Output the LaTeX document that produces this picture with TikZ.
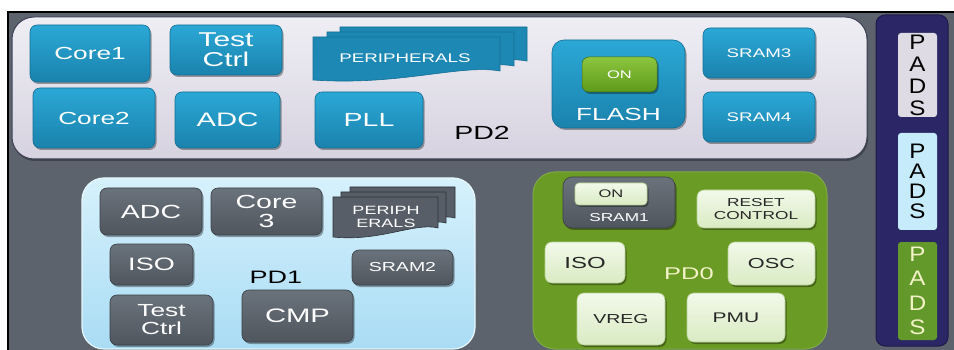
\documentclass[tikz,border=0pt]{standalone}
\usepackage{fontspec}
\setmainfont[FakeStretch=1.5]{Liberation Sans}
\newfontfamily\padsfont[FakeStretch=1.15]{Liberation Sans}
\usetikzlibrary{shadows}
\definecolor{bg}{HTML}{5C636C}
\definecolor{blueT}{HTML}{2BA8D6}
\definecolor{blueB}{HTML}{1A82AD}
\definecolor{blueD}{HTML}{156F94}
\definecolor{greyT}{HTML}{6A727B}
\definecolor{greyB}{HTML}{4F565E}
\definecolor{greyD}{HTML}{3A3F45}
\definecolor{lgT}{HTML}{F2F9EA}
\definecolor{lgB}{HTML}{D9EBC3}
\definecolor{lgD}{HTML}{B5CF92}
\definecolor{onT}{HTML}{8CC63F}
\definecolor{onB}{HTML}{5E9A1A}
\definecolor{pdTwoT}{HTML}{EFEEF4}
\definecolor{pdTwoB}{HTML}{D6D2E0}
\definecolor{pdTwoD}{HTML}{3E4157}
\definecolor{pdOneT}{HTML}{D6F1FC}
\definecolor{pdOneB}{HTML}{A9DCF4}
\definecolor{pdZero}{HTML}{6A9B25}
\definecolor{navy}{HTML}{2B2766}
\definecolor{navyD}{HTML}{1D1A4A}
\definecolor{padA}{HTML}{DEDBE4}
\definecolor{padB}{HTML}{C6EBFB}
\definecolor{padC}{HTML}{63992A}
\definecolor{paleY}{HTML}{F4F2C8}
\newcommand\fsz[2]{\fontsize{#1}{#2}\selectfont}
\begin{document}
\begin{tikzpicture}[x=1pt,y=-1pt,
  sz/.style 2 args={minimum width=#1pt, minimum height=#2pt},
  box/.style={rounded corners=7pt, inner sep=0pt, align=center,
    drop shadow={shadow xshift=1.5pt,shadow yshift=-2pt,opacity=0.35,fill=black}},
  bluebox/.style={box, top color=blueT, bottom color=blueB, draw=blueD, line width=0.6pt, text=white},
  greybox/.style={box, top color=greyT, bottom color=greyB, draw=greyD, line width=0.6pt, text=white},
  lgbox/.style={box, top color=lgT, bottom color=lgB, draw=lgD, line width=0.6pt, text=black!85},
  onbox/.style={box, top color=onT, bottom color=onB, draw=onB!70!black, line width=0.5pt},
  panel/.style={rounded corners=22pt, inner sep=0pt},
  padbox/.style={rounded corners=3pt, inner sep=0pt, align=center, sz={39}{#1}},
  bluesheet/.style={fill=blueB!85!blueT, draw=blueD, line width=0.6pt},
  greysheet/.style={fill=greyB!70!greyT, draw=greyD!80!black, line width=0.6pt},
  lbl/.style={inner sep=0pt}
]
\useasboundingbox (0,0) rectangle (954,350);
\fill[white] (0,0) rectangle (954,350);
\draw[black, line width=1.4pt, fill=bg] (8,12) rectangle (970,370);

% ---------- PD2 ----------
\node[panel, sz={855}{142}, top color=pdTwoT, bottom color=pdTwoB, draw=pdTwoD, line width=1pt,
  drop shadow={shadow xshift=1pt,shadow yshift=-2pt,opacity=0.3,fill=black}] (pd2) at (439.5,88) {};
\node[bluebox, sz={120}{57}, font=\fsz{17.5}{20}] (core1) at (90,53.5) {Core1};
\node[bluebox, sz={112}{50}, font=\fsz{20}{20}] (test2) at (226,50) {Test\\Ctrl};
\node[bluebox, sz={122}{60}, font=\fsz{17.5}{20}] (core2) at (94,118) {Core2};
\node[bluebox, sz={105}{56}, font=\fsz{19.5}{20}] (adc2) at (227.5,120) {ADC};
\node[bluebox, sz={108}{56}, font=\fsz{19}{20}] (pll) at (369,120) {PLL};
% peripherals stack
\draw[bluesheet] (340,27) -- (527,27) -- (527,61) .. controls (487,54) and (427,76) .. (340,70) -- cycle;
\draw[bluesheet] (327,32) -- (514,32) -- (514,66) .. controls (474,59) and (414,81) .. (327,75) -- cycle;
\draw[bluesheet] (313,37) -- (500,37) -- (500,71) .. controls (460,64) and (400,86) .. (313,80) -- cycle;
\node[lbl, text=white, font=\fsz{12.5}{14}] (periph2) at (405,58) {PERIPHERALS};
\node[lbl, font=\fsz{19}{20}] (pd2lbl) at (482,133) {PD2};
\node[bluebox, rounded corners=12pt, sz={133}{88}] (flash) at (618.5,84) {};
\node[onbox, sz={75}{35}, text=white, font=\fsz{11}{12}] (on2) at (619.5,74.5) {ON};
\node[lbl, text=white, font=\fsz{17.5}{18}] (flashlbl) at (618.5,114) {FLASH};
\node[bluebox, sz={112}{50}, font=\fsz{12.5}{14}] (sram3) at (759,53) {SRAM3};
\node[bluebox, sz={112}{50}, font=\fsz{12.5}{14}] (sram4) at (759,117) {SRAM4};

% ---------- PD1 ----------
\node[panel, sz={393}{171}, top color=pdOneT, bottom color=pdOneB, draw=pdOneT!60!white, line width=1.2pt] (pd1) at (278.5,263.5) {};
\node[greybox, sz={102}{47}, font=\fsz{19}{20}] (adc1) at (151,211.5) {ADC};
\node[greybox, sz={111}{47}, font=\fsz{19}{19}] (core3) at (266.5,211.5) {Core\\3};
\draw[greysheet] (350,187) -- (455,187) -- (455,218) .. controls (432,212) and (397,232) .. (350,227) -- cycle;
\draw[greysheet] (341,192) -- (446,192) -- (446,223) .. controls (423,217) and (388,237) .. (341,232) -- cycle;
\draw[greysheet] (333,197) -- (438,197) -- (438,228) .. controls (415,222) and (380,242) .. (333,237) -- cycle;
\node[lbl, text=white, align=center, font=\fsz{12}{13.5}] (periph1) at (386,217) {PERIPH\\ERALS};
\node[greybox, sz={83}{41}, font=\fsz{18}{18}] (iso1) at (151.5,264.5) {ISO};
\node[greybox, sz={101}{35}, font=\fsz{13}{14}] (sram2) at (402.5,267.5) {SRAM2};
\node[lbl, font=\fsz{18}{18}] (pd1lbl) at (276,277) {PD1};
\node[greybox, sz={103}{50}, font=\fsz{17.5}{18}] (test1) at (161.5,320) {Test\\Ctrl};
\node[greybox, sz={111}{52}, font=\fsz{19.5}{20}] (cmp) at (297.5,316) {CMP};

% ---------- PD0 ----------
\node[panel, sz={294}{177}, fill=pdZero, draw=pdZero!85!white, line width=1pt] (pd0) at (680,260.5) {};
\node[greybox, rounded corners=9pt, sz={112}{51}] (sram1) at (619,202.5) {};
\node[lgbox, rounded corners=4pt, sz={72}{22}, font=\fsz{11}{12}] (on1) at (611,194) {ON};
\node[lbl, text=white, font=\fsz{11.5}{12}] (sram1lbl) at (619,218) {SRAM1};
\node[lgbox, sz={118}{38}, font=\fsz{11.5}{13}] (reset) at (756,209) {RESET\\CONTROL};
\node[lgbox, sz={80}{41}, font=\fsz{16}{16}] (iso0) at (585,262.5) {ISO};
\node[lgbox, sz={87}{43}, font=\fsz{14.5}{15}] (osc) at (771.5,263.5) {OSC};
\node[lbl, text=paleY, font=\fsz{17}{17}] (pd0lbl) at (689,274) {PD0};
\node[lgbox, sz={88}{52}, font=\fsz{13}{14}] (vreg) at (621,319) {VREG};
\node[lgbox, sz={98}{49}, font=\fsz{14}{15}] (pmu) at (736,317.5) {PMU};

% ---------- PADS ----------
\node[rounded corners=9pt, sz={72}{331}, fill=navy, draw=navyD, line width=1pt] (padcol) at (912,180.5) {};
\node[padbox=84, fill=padA, font=\padsfont\fsz{21}{22}] (pads1) at (917.5,75) {P\\A\\D\\S};
\node[padbox=97, fill=padB, font=\padsfont\fsz{21}{20}] (pads2) at (917.5,181.5) {P\\A\\D\\S};
\node[padbox=98, fill=padC, text=paleY, font=\padsfont\fsz{21}{24.5}] (pads3) at (917.5,291) {P\\A\\D\\S};
\end{tikzpicture}
\end{document}
